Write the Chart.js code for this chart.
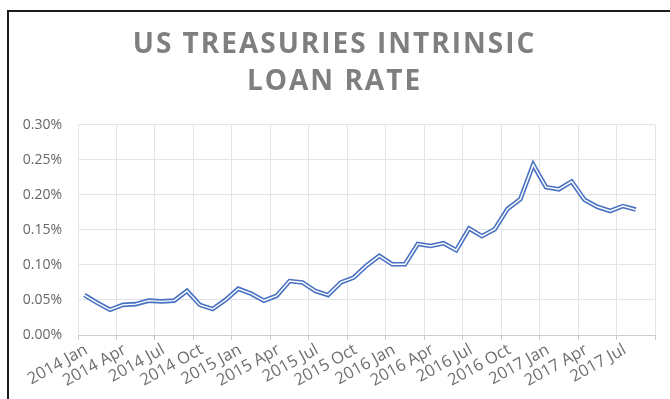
<!DOCTYPE html>
<html>
<head>
<meta charset="utf-8">
<script src="https://cdn.jsdelivr.net/npm/chart.js@4.4.1/dist/chart.umd.min.js"></script>
<style>
  html, body { margin: 0; padding: 0; background: #fff; }
  #wrap { position: relative; width: 670px; height: 399px; overflow: hidden; }
  #frame {
    position: absolute; left: 7px; top: 10px; width: 700px; height: 420px;
    border-left: 2px solid #1c1c1c; border-top: 2px solid #1c1c1c;
  }
  canvas { position: absolute; left: 0; top: 0; }
</style>
</head>
<body>
<div id="wrap">
  <div id="frame"></div>
  <canvas id="chart" width="670" height="399"></canvas>
</div>
<script>
const titleLines = ['US TREASURIES INTRINSIC', 'LOAN RATE'];

const months = [
  '2014 Jan', '2014 Feb', '2014 Mar', '2014 Apr', '2014 May', '2014 Jun',
  '2014 Jul', '2014 Aug', '2014 Sep', '2014 Oct', '2014 Nov', '2014 Dec',
  '2015 Jan', '2015 Feb', '2015 Mar', '2015 Apr', '2015 May', '2015 Jun',
  '2015 Jul', '2015 Aug', '2015 Sep', '2015 Oct', '2015 Nov', '2015 Dec',
  '2016 Jan', '2016 Feb', '2016 Mar', '2016 Apr', '2016 May', '2016 Jun',
  '2016 Jul', '2016 Aug', '2016 Sep', '2016 Oct', '2016 Nov', '2016 Dec',
  '2017 Jan', '2017 Feb', '2017 Mar', '2017 Apr', '2017 May', '2017 Jun',
  '2017 Jul', '2017 Aug', '2017 Sep',
];

// loan rate in percent, one value per month
const rates2014 = [0.057, 0.046, 0.036, 0.043, 0.044, 0.049, 0.048, 0.049, 0.063, 0.043, 0.037, 0.050];
const rates2015 = [0.066, 0.059, 0.049, 0.056, 0.077, 0.075, 0.063, 0.057, 0.075, 0.082, 0.099, 0.113];
const rates2016 = [0.101, 0.101, 0.130, 0.127, 0.131, 0.121, 0.152, 0.141, 0.151, 0.180, 0.194, 0.243];
const rates2017 = [0.211, 0.208, 0.219, 0.193, 0.183, 0.177, 0.184, 0.179];

const yTicks = [0, 0.05, 0.10, 0.15, 0.20, 0.25, 0.30];

const rates = [...rates2014, ...rates2015, ...rates2016, ...rates2017];

const lineBlue = '#4a72c2';
const gridColor = '#e3e3ea';
const axisColor = '#cdcdd4';
const tickColor = '#666666';
const titleFont = { family: '"Open Sans", sans-serif', size: 28, weight: 'bold', lineHeight: 1.3 };

// gridlines and tick marks only every third month (quarter starts)
const everyThird = (ctx) => (ctx.index === undefined || ctx.index % 3 === 0);

// the built-in title only reserves the space; this draws it with letter spacing
const spacedTitle = {
  id: 'spacedTitle',
  afterDraw(chart) {
    const tb = chart.titleBlock;
    if (!tb) return;
    const ctx = chart.ctx;
    const lh = titleFont.size * titleFont.lineHeight;
    ctx.save();
    ctx.font = `${titleFont.weight} ${titleFont.size}px ${titleFont.family}`;
    ctx.fillStyle = '#7f7f7f';
    ctx.textAlign = 'center';
    ctx.textBaseline = 'middle';
    ctx.letterSpacing = '2px';
    const cx = (tb.left + tb.right) / 2 + 7;
    titleLines.forEach((t, i) => {
      ctx.fillText(t, cx, tb.top + tb.options.padding.top + lh * (i + 0.5));
    });
    ctx.restore();
  },
};

new Chart(document.getElementById('chart'), {
  type: 'line',
  data: {
    labels: months,
    datasets: [
      {
        // inner white stroke gives the double-line look
        data: rates,
        borderColor: '#ffffff',
        borderWidth: 1.4,
        pointRadius: 0,
        tension: 0,
      },
      {
        data: rates,
        borderColor: lineBlue,
        borderWidth: 4.6,
        pointRadius: 0,
        tension: 0,
      },
    ],
  },
  plugins: [spacedTitle],
  options: {
    responsive: false,
    animation: false,
    events: [],
    layout: { padding: { left: 0, right: 15, top: 0, bottom: 0 } },
    plugins: {
      legend: { display: false },
      tooltip: { enabled: false },
      title: {
        display: true,
        text: titleLines,
        color: 'rgba(0,0,0,0)',
        font: titleFont,
        padding: { top: 27, bottom: 25 },
      },
    },
    scales: {
      x: {
        type: 'category',
        offset: true,
        grid: {
          offset: true,
          color: (ctx) => everyThird(ctx) ? gridColor : 'rgba(0,0,0,0)',
          tickColor: (ctx) => everyThird(ctx) ? axisColor : 'rgba(0,0,0,0)',
          tickLength: 5,
          drawTicks: true,
        },
        border: { color: axisColor },
        ticks: {
          autoSkip: false,
          minRotation: 29,
          maxRotation: 29,
          padding: 0,
          labelOffset: 2,
          color: '#6e6e6e',
          font: { family: '"Open Sans", sans-serif', size: 16.5 },
          callback: (v, i) => (i % 3 === 0 ? months[i] : ''),
        },
        afterFit: (s) => { s.height = 64; },
      },
      y: {
        min: 0,
        max: 0.30,
        afterBuildTicks: (s) => { s.ticks = yTicks.map(v => ({ value: v })); },
        grid: { color: gridColor, drawTicks: false },
        border: { display: false },
        ticks: {
          padding: 16,
          color: tickColor,
          font: { family: '"Open Sans", sans-serif', size: 14 },
          callback: (v) => v.toFixed(2) + '%',
        },
        afterFit: (s) => { s.width = 78; },
      },
    },
  },
});
</script>
</body>
</html>
